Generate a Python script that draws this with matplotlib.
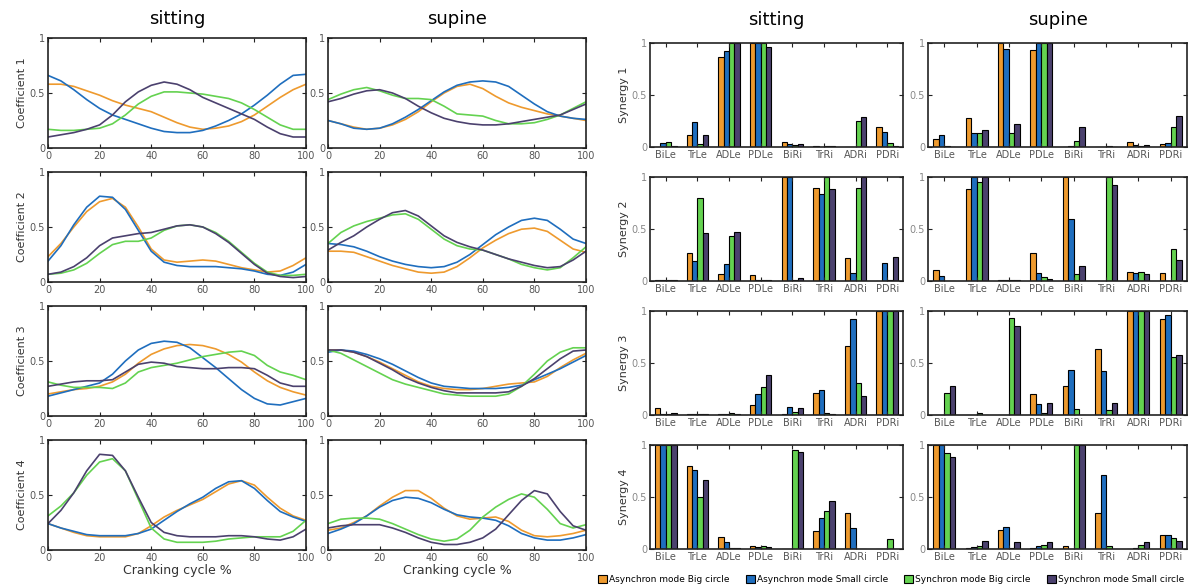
import numpy as np
import matplotlib.pyplot as plt
from matplotlib.patches import Patch

# cranking cycle %, read every 5 %
cycle = np.arange(0, 101, 5)

# coefficient curves: [Async Big, Async Small, Sync Big, Sync Small]
c1_sit = [
    [0.58,0.58,0.56,0.52,0.48,0.43,0.39,0.36,0.33,0.28,0.23,0.19,0.17,0.18,0.20,0.24,0.30,0.38,0.46,0.53,0.58],
    [0.66,0.61,0.53,0.44,0.36,0.30,0.26,0.22,0.18,0.15,0.14,0.14,0.16,0.20,0.25,0.31,0.39,0.48,0.58,0.66,0.67],
    [0.17,0.16,0.16,0.17,0.18,0.22,0.30,0.40,0.47,0.51,0.51,0.50,0.49,0.47,0.45,0.41,0.35,0.28,0.21,0.17,0.17],
    [0.10,0.12,0.14,0.17,0.21,0.30,0.42,0.51,0.57,0.60,0.58,0.53,0.46,0.41,0.36,0.31,0.26,0.19,0.13,0.10,0.10]]
c1_sup = [
    [0.25,0.22,0.19,0.17,0.18,0.21,0.26,0.33,0.42,0.50,0.56,0.58,0.54,0.47,0.41,0.37,0.34,0.31,0.29,0.27,0.25],
    [0.25,0.22,0.18,0.17,0.18,0.22,0.28,0.35,0.43,0.51,0.57,0.60,0.61,0.60,0.56,0.48,0.40,0.33,0.29,0.27,0.26],
    [0.44,0.49,0.53,0.55,0.52,0.48,0.45,0.45,0.44,0.38,0.31,0.30,0.29,0.25,0.22,0.22,0.23,0.26,0.30,0.36,0.42],
    [0.42,0.45,0.49,0.52,0.53,0.50,0.45,0.38,0.32,0.27,0.24,0.22,0.21,0.21,0.22,0.24,0.26,0.28,0.30,0.35,0.40]]
c2_sit = [
    [0.23,0.35,0.50,0.64,0.73,0.76,0.68,0.50,0.30,0.20,0.18,0.19,0.20,0.19,0.16,0.13,0.11,0.09,0.10,0.15,0.22],
    [0.19,0.33,0.52,0.68,0.78,0.77,0.66,0.47,0.28,0.18,0.15,0.14,0.14,0.14,0.13,0.12,0.10,0.07,0.06,0.09,0.16],
    [0.07,0.08,0.11,0.17,0.26,0.34,0.37,0.37,0.40,0.47,0.51,0.52,0.50,0.45,0.37,0.27,0.17,0.09,0.06,0.06,0.07],
    [0.07,0.09,0.14,0.22,0.33,0.40,0.42,0.44,0.45,0.48,0.51,0.52,0.50,0.44,0.36,0.26,0.16,0.08,0.05,0.04,0.05]]
c2_sup = [
    [0.28,0.28,0.27,0.23,0.19,0.15,0.12,0.09,0.08,0.09,0.14,0.22,0.31,0.38,0.44,0.48,0.49,0.46,0.38,0.30,0.27],
    [0.35,0.34,0.32,0.28,0.23,0.19,0.16,0.14,0.13,0.14,0.18,0.25,0.34,0.43,0.50,0.56,0.58,0.56,0.48,0.39,0.35],
    [0.35,0.45,0.51,0.55,0.58,0.61,0.62,0.57,0.48,0.39,0.33,0.30,0.29,0.25,0.21,0.16,0.13,0.11,0.13,0.22,0.32],
    [0.29,0.36,0.42,0.50,0.57,0.63,0.65,0.60,0.51,0.42,0.36,0.32,0.29,0.25,0.21,0.18,0.15,0.13,0.14,0.20,0.28]]
c3_sit = [
    [0.20,0.22,0.24,0.25,0.27,0.31,0.38,0.48,0.56,0.61,0.64,0.65,0.64,0.61,0.56,0.49,0.40,0.32,0.26,0.22,0.19],
    [0.18,0.21,0.24,0.27,0.30,0.38,0.50,0.60,0.66,0.68,0.67,0.62,0.53,0.44,0.34,0.24,0.16,0.11,0.10,0.13,0.16],
    [0.31,0.28,0.26,0.26,0.26,0.25,0.30,0.40,0.44,0.46,0.48,0.51,0.54,0.56,0.58,0.59,0.55,0.46,0.40,0.37,0.33],
    [0.27,0.29,0.31,0.32,0.32,0.33,0.40,0.47,0.49,0.48,0.45,0.44,0.43,0.43,0.44,0.44,0.43,0.37,0.30,0.27,0.27]]
c3_sup = [
    [0.60,0.60,0.58,0.54,0.49,0.43,0.37,0.31,0.27,0.25,0.24,0.24,0.25,0.27,0.29,0.30,0.31,0.36,0.44,0.51,0.57],
    [0.58,0.60,0.59,0.56,0.52,0.47,0.41,0.35,0.30,0.27,0.26,0.25,0.25,0.25,0.26,0.28,0.33,0.38,0.43,0.49,0.55],
    [0.60,0.57,0.51,0.45,0.39,0.33,0.29,0.26,0.23,0.20,0.19,0.18,0.18,0.18,0.20,0.27,0.38,0.50,0.58,0.62,0.62],
    [0.60,0.60,0.58,0.54,0.48,0.42,0.35,0.30,0.26,0.23,0.21,0.21,0.21,0.21,0.22,0.27,0.34,0.43,0.52,0.59,0.60]]
c4_sit = [
    [0.24,0.20,0.16,0.13,0.12,0.12,0.12,0.15,0.22,0.30,0.36,0.41,0.46,0.53,0.60,0.63,0.59,0.48,0.38,0.31,0.27],
    [0.24,0.20,0.17,0.14,0.13,0.13,0.13,0.15,0.19,0.27,0.35,0.42,0.48,0.56,0.62,0.63,0.56,0.45,0.35,0.30,0.26],
    [0.31,0.40,0.52,0.68,0.80,0.83,0.72,0.46,0.20,0.10,0.07,0.07,0.07,0.08,0.10,0.11,0.12,0.12,0.12,0.17,0.27],
    [0.24,0.36,0.52,0.72,0.87,0.86,0.72,0.48,0.25,0.16,0.13,0.12,0.12,0.12,0.13,0.13,0.12,0.10,0.09,0.12,0.19]]
c4_sup = [
    [0.18,0.20,0.25,0.31,0.40,0.48,0.54,0.54,0.47,0.38,0.31,0.28,0.29,0.30,0.26,0.18,0.13,0.12,0.13,0.15,0.18],
    [0.15,0.19,0.24,0.31,0.39,0.45,0.48,0.47,0.43,0.37,0.32,0.30,0.29,0.27,0.22,0.15,0.11,0.09,0.09,0.11,0.14],
    [0.24,0.28,0.29,0.29,0.28,0.24,0.19,0.14,0.10,0.08,0.10,0.18,0.30,0.39,0.46,0.51,0.48,0.37,0.24,0.20,0.23],
    [0.20,0.22,0.23,0.23,0.23,0.20,0.16,0.11,0.07,0.05,0.05,0.07,0.11,0.19,0.32,0.45,0.54,0.51,0.35,0.22,0.18]]

muscles = ["BiLe", "TrLe", "ADLe", "PDLe", "BiRi", "TrRi", "ADRi", "PDRi"]

# synergy weights per series
s1_sit = [[0.0,0.12,0.87,1.0,0.05,0.01,0.0,0.19],
          [0.04,0.24,0.92,1.0,0.03,0.0,0.0,0.14],
          [0.05,0.03,1.0,1.0,0.02,0.01,0.25,0.04],
          [0.01,0.12,1.0,0.96,0.03,0.01,0.29,0.01]]
s1_sup = [[0.08,0.28,1.0,0.93,0.0,0.0,0.05,0.03],
          [0.12,0.13,0.94,1.0,0.01,0.0,0.02,0.04],
          [0.01,0.13,0.13,1.0,0.06,0.01,0.01,0.19],
          [0.0,0.16,0.22,1.0,0.19,0.0,0.02,0.30]]
s2_sit = [[0.005,0.27,0.07,0.06,1.0,0.89,0.22,0.0],
          [0.005,0.19,0.16,0.01,1.0,0.84,0.08,0.17],
          [0.005,0.80,0.43,0.01,0.01,1.0,0.89,0.01],
          [0.005,0.46,0.47,0.01,0.03,0.88,1.0,0.23]]
s2_sup = [[0.11,0.88,0.01,0.27,1.0,0.0,0.09,0.08],
          [0.05,1.0,0.01,0.08,0.60,0.0,0.08,0.0],
          [0.0,0.95,0.01,0.04,0.07,1.0,0.09,0.31],
          [0.0,1.0,0.01,0.02,0.14,0.92,0.07,0.20]]
s3_sit = [[0.07,0.01,0.01,0.10,0.01,0.21,0.66,1.0],
          [0.01,0.01,0.01,0.20,0.08,0.24,0.92,1.0],
          [0.01,0.01,0.02,0.27,0.03,0.02,0.31,1.0],
          [0.02,0.01,0.01,0.38,0.07,0.01,0.18,1.0]]
s3_sup = [[0.0,0.0,0.0,0.20,0.28,0.63,1.0,0.92],
          [0.0,0.0,0.0,0.11,0.43,0.42,1.0,0.96],
          [0.21,0.02,0.93,0.02,0.06,0.05,1.0,0.56],
          [0.28,0.0,0.86,0.12,0.0,0.12,1.0,0.58]]
s4_sit = [[1.0,0.80,0.12,0.03,0.0,0.17,0.35,0.0],
          [1.0,0.76,0.07,0.02,0.0,0.30,0.20,0.0],
          [1.0,0.50,0.01,0.03,0.95,0.37,0.0,0.10],
          [1.0,0.66,0.01,0.02,0.93,0.46,0.0,0.0]]
s4_sup = [[1.0,0.01,0.18,0.01,0.03,0.35,0.0,0.13],
          [1.0,0.02,0.21,0.03,0.0,0.71,0.01,0.13],
          [0.92,0.03,0.01,0.04,1.0,0.03,0.04,0.11],
          [0.88,0.08,0.07,0.07,1.0,0.0,0.07,0.08]]

labels = ["Asynchron mode Big circle", "Asynchron mode Small circle",
          "Synchron mode Big circle", "Synchron mode Small circle"]
colors = ["#EE9A2E", "#1F6EBE", "#64D250", "#4B416E"]

W, H = 1204, 587
fig = plt.figure(figsize=(W / 100, H / 100), dpi=100)

def box(ax):
    for s in ax.spines.values():
        s.set_linewidth(1.2)
        s.set_color("#222222")
    ax.tick_params(direction="in", top=True, right=True, length=3,
                   labelsize=7, colors="#222222", labelcolor="#555555", pad=2)

curves = [(c1_sit, c1_sup), (c2_sit, c2_sup), (c3_sit, c3_sup), (c4_sit, c4_sup)]
bars = [(s1_sit, s1_sup), (s2_sit, s2_sup), (s3_sit, s3_sup), (s4_sit, s4_sup)]
row_top = [38, 172, 306, 440]
bar_top = [43, 177, 311, 445]

for r in range(4):
    for c in range(2):
        x0 = [48, 328][c]
        ax = fig.add_axes([x0 / W, 1 - (row_top[r] + 110) / H, 258 / W, 110 / H])
        for k in range(4):
            ax.plot(cycle, curves[r][c][k], color=colors[k], lw=1.2)
        ax.set_xlim(0, 100)
        ax.set_ylim(0, 1)
        ax.set_xticks([0, 20, 40, 60, 80, 100])
        ax.set_yticks([0, 0.5, 1])
        ax.set_yticklabels(["0", "0.5", "1"])
        box(ax)
        if c == 0:
            ax.set_ylabel("Coefficient %d" % (r + 1), fontsize=8, color="#333333", labelpad=2)
        if r == 0:
            ax.set_title(["sitting", "supine"][c], fontsize=13, pad=10)
        if r == 3:
            ax.set_xlabel("Cranking cycle %", fontsize=9, color="#333333", labelpad=1)

        bx0, bx1 = [(650, 903), (928, 1187)][c]
        bx = fig.add_axes([bx0 / W, 1 - (bar_top[r] + 104) / H, (bx1 - bx0) / W, 104 / H])
        pos = np.arange(1, 9)
        bw = 0.17
        for k in range(4):
            bx.bar(pos + (k - 1.5) * bw, bars[r][c][k], width=bw, color=colors[k],
                   edgecolor="black", linewidth=0.8)
        bx.set_xlim(0.5, 8.5)
        bx.set_ylim(0, 1)
        bx.set_xticks(pos)
        bx.set_xticklabels(muscles)
        bx.set_yticks([0, 0.5, 1])
        bx.set_yticklabels(["0", "0.5", "1"])
        box(bx)
        bx.tick_params(axis="y", labelcolor="#888888")
        if c == 0:
            bx.set_ylabel("Synergy %d" % (r + 1), fontsize=8, color="#333333", labelpad=2)
        if r == 0:
            bx.set_title(["sitting", "supine"][c], fontsize=13, pad=13)

handles = [Patch(facecolor=colors[k], edgecolor="black", linewidth=0.8) for k in range(4)]
fig.legend(handles, labels, loc="lower left", bbox_to_anchor=(592 / W, -0.006),
           ncol=4, frameon=False, fontsize=6.5, handlelength=1.0, handleheight=1.0,
           handletextpad=0.2, columnspacing=1.8, borderpad=0.2)

fig.savefig("out.png", dpi=100)
